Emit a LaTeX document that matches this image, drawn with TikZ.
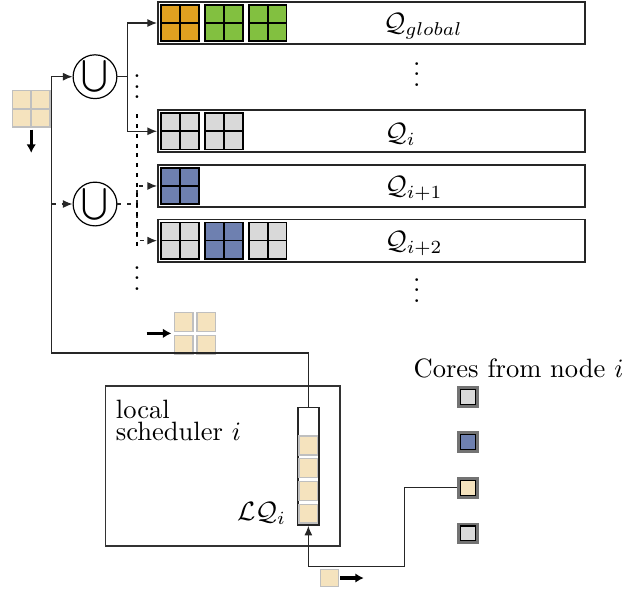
\documentclass[tikz,border=0pt]{standalone}
\usepackage{amsmath}
\usepackage{amssymb}
\usepackage{xcolor}
\usetikzlibrary{positioning, arrows.meta}

\definecolor{jobOrange}{HTML}{E0A020}
\definecolor{jobGreen}{HTML}{82C040}
\definecolor{jobBlue}{HTML}{6E80B0}
\definecolor{jobGray}{HTML}{D9D9D9}
\definecolor{jobBeige}{HTML}{F5E3BE}

\begin{document}
\begin{tikzpicture}[
        x=0.1325mm, y=-0.1325mm,
        queue/.style={draw=black!85, line width=0.7pt, minimum width=56.6mm, minimum height=5.6mm, inner sep=0pt},
        job/.style={draw=black, line width=0.6pt, fill=#1, minimum width=5mm, minimum height=4.8mm, inner sep=0pt,
            path picture={\draw[line width=0.6pt] (path picture bounding box.north) -- (path picture bounding box.south)
                (path picture bounding box.west) -- (path picture bounding box.east);}},
        newjob/.style={draw=black!25, line width=0.6pt, fill=jobBeige, minimum width=5mm, minimum height=4.8mm, inner sep=0pt,
            path picture={\draw[black!25, line width=0.6pt] (path picture bounding box.north) -- (path picture bounding box.south)
                (path picture bounding box.west) -- (path picture bounding box.east);}},
        part/.style={draw=black!25, line width=0.5pt, fill=jobBeige, minimum size=2.48mm, inner sep=0pt},
        core/.style={draw=black!55, line width=1.1pt, fill=#1, minimum size=2.5mm, inner sep=0pt,
            path picture={\draw[black, line width=0.45pt] ([shift={(0.75pt,-0.75pt)}]path picture bounding box.north west)
                rectangle ([shift={(-0.75pt,0.75pt)}]path picture bounding box.south east);}},
        union/.style={draw=black, circle, line width=0.45pt, minimum size=5.8mm, inner sep=0pt},
        flow/.style={-{Latex[length=3.6pt,width=3pt]}, draw=black!85, line width=0.45pt},
        dflow/.style={flow, dash pattern=on 1.5pt off 2.2pt},
        bigarrow/.style={-{Latex[length=3.2pt,width=3.6pt]}, line width=1.2pt},
        dotsnode/.style={anchor=south, inner sep=0pt}]
        \useasboundingbox (0,0) rectangle (625,590);

        % QUEUES
        \node[queue] (Qg) at (371.5,23) {};
        \node[queue, below=8.5mm of Qg] (Qi) {};
        \node[queue, below=1.4mm of Qi] (Qi1) {};
        \node[queue, below=1.4mm of Qi1] (Qi2) {};
        % queue labels
        \node[right=28.8mm of Qg.west, yshift=-0.4mm] (lblG) {$\mathcal{Q}_{global}$};
        \node[right=29mm of Qi.west, yshift=-0.4mm] (lblI) {$\mathcal{Q}_{i}$};
        \node[right=29mm of Qi1.west, yshift=-0.4mm] (lblI1) {$\mathcal{Q}_{i+1}$};
        \node[right=29mm of Qi2.west, yshift=-0.4mm] (lblI2) {$\mathcal{Q}_{i+2}$};

        % JOBS in the queues
        \node[job=jobOrange, right=0.45mm of Qg.west] (g1) {};
        \node[job=jobGreen, right=0.6mm of g1] (g2) {};
        \node[job=jobGreen, right=0.6mm of g2] (g3) {};
        \node[job=jobGray, right=0.45mm of Qi.west] (i1) {};
        \node[job=jobGray, right=0.6mm of i1] (i2) {};
        \node[job=jobBlue, right=0.45mm of Qi1.west] (ia1) {};
        \node[job=jobGray, right=0.45mm of Qi2.west] (ib1) {};
        \node[job=jobBlue, right=0.6mm of ib1] (ib2) {};
        \node[job=jobGray, right=0.6mm of ib2] (ib3) {};

        % dots
        \node[dotsnode] (dotsA) at (137,99.5) {$\vdots$};
        \node[dotsnode] (dotsB) at (137,291) {$\vdots$};
        \node[dotsnode] (dotsC) at (416.7,87) {$\vdots$};
        \node[dotsnode] (dotsD) at (416.7,303) {$\vdots$};

        % UNIONS
        \node[union] (U1) at (95,76.7) {\large$\bigcup$};
        \node[union] (U2) at (95,204) {\large$\bigcup$};

        % incoming job
        \node[newjob] (inJob) at (31.2,108.7) {};
        % job split in parts
        \node[part] (mj1) at (183.7,322) {};
        \node[part, right=0.35mm of mj1] (mj2) {};
        \node[part, below=0.35mm of mj1] (mj3) {};
        \node[part, right=0.35mm of mj3] (mj4) {};

        % LOCAL SCHEDULER
        \node[draw=black!80, line width=0.6pt, minimum width=31.1mm, minimum height=21.2mm] (sched) at (222.8,466) {};
        \node[align=left, anchor=north west, inner sep=0pt] (schedText) at ([xshift=1.42mm,yshift=-1.85mm]sched.north west) {local\\[-3.7pt]scheduler $i$};
        \node[draw=black!85, line width=0.6pt, minimum width=2.82mm, minimum height=15.6mm, inner sep=0pt] (LQ) at (308.35,466.15) {};
        \node[part, above=0.3mm of LQ.south] (lq1) {};
        \node[part, above=0.35mm of lq1] (lq2) {};
        \node[part, above=0.35mm of lq2] (lq3) {};
        \node[part, above=0.35mm of lq3] (lq4) {};
        \node[left=0.4mm of lq1] (lqLabel) {$\mathcal{LQ}_i$};
        % outgoing part
        \node[part, minimum size=2.3mm] (outJob) at (329.5,578) {};

        % CORES
        \node[anchor=east, inner sep=0pt] (coreTitle) at (624,368) {Cores from node $i$};
        \node[core=jobGray] (c1) at (468.3,396.7) {};
        \node[core=jobBlue, below=3.15mm of c1] (c2) {};
        \node[core=jobBeige, below=3.15mm of c2] (c3) {};
        \node[core=jobGray, below=3.15mm of c3] (c4) {};

        % ARROWS
        \coordinate (turn) at (51.7,353);
        \draw[flow] (LQ.north) |- (turn) |- (U1);
        \draw[dflow] (turn |- U2) -- (U2);
        \coordinate (split) at ([xshift=1.35mm]U1.east);
        \draw[flow] (U1.east) -- (split) |- (Qg);
        \draw[flow] (split) |- (Qi);
        \coordinate (dsplit) at (137,204);
        \draw[dflow] (U2.east) -- (dsplit) |- (Qi1);
        \draw[dflow] (dsplit) |- (Qi2);
        \draw[dash pattern=on 1.5pt off 2.2pt, line width=0.45pt] ([yshift=11.9mm]dsplit) -- ([yshift=-6.1mm]dsplit);
        \coordinate (bend) at (404.3,566.7);
        \draw[flow] (c3.west) -| (bend) -| (LQ.south);

        % thick arrows
        \draw[bigarrow] ([yshift=-0.25mm]inJob.south) -- ++(0,-3.1mm);
        \draw[bigarrow] ([xshift=-3.6mm,yshift=-0.175mm]mj1.south west) -- ++(3.3mm,0);
        \draw[bigarrow] ([xshift=0.2mm]outJob.east) -- ++(3.1mm,0);
\end{tikzpicture}
\end{document}
